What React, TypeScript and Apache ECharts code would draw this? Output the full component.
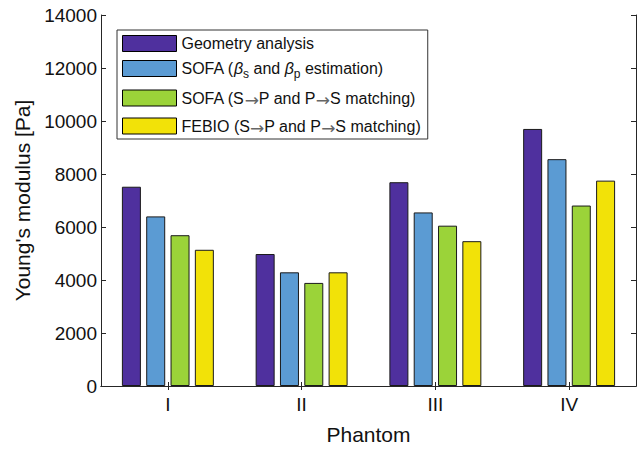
import React, { useEffect, useRef } from "react";
import * as echarts from "echarts";

const categories = ["I", "II", "III", "IV"];
const seriesNames = [
  "Geometry analysis",
  "SOFA (βs and βp estimation)",
  "SOFA (S→P and P→S matching)",
  "FEBIO (S→P and P→S matching)",
];
const geometry = [7520, 4980, 7690, 9700];
const sofaBeta = [6400, 4290, 6550, 8560];
const sofaMatch = [5690, 3890, 6050, 6810];
const febioMatch = [5140, 4290, 5465, 7750];
const seriesValues = [geometry, sofaBeta, sofaMatch, febioMatch];
const colors = ["#4F309E", "#5B9BD3", "#9BD339", "#F2E208"];
const yTicks = { min: 0, max: 14000, interval: 2000 };

const FONT = "'Liberation Sans', Arial, Helvetica, sans-serif";

function legendText(name: string): string {
  if (name === seriesNames[1]) {
    return "{n|SOFA (}{i|β}{s|s}{n| and }{i|β}{s|p}{n| estimation)}";
  }
  return name
    .split("→")
    .map((part) => "{n|" + part + "}")
    .join("{a|→}");
}

export default function App() {
  const ref = useRef<HTMLDivElement>(null);
  useEffect(() => {
    if (!ref.current) return;
    const chart = echarts.init(ref.current, undefined, { renderer: "svg", width: 641, height: 450 });
    const axisLineColor = "#262626";
    chart.setOption({
      animation: false,
      backgroundColor: "#ffffff",
      textStyle: { fontFamily: FONT },
      grid: { left: 101, width: 535, top: 15, height: 374, containLabel: false },
      legend: {
        orient: "vertical",
        left: 117,
        top: 30,
        padding: [5, 7, 3, 5],
        borderColor: "#333",
        borderWidth: 1,
        backgroundColor: "#fff",
        itemWidth: 54,
        itemHeight: 16,
        itemGap: 8,
        itemTextGap: 4,
        icon: "rect",
        itemStyle: { borderColor: "#000", borderWidth: 1 },
        data: seriesNames,
        formatter: legendText,
        textStyle: {
          fontFamily: FONT,
          fontSize: 16,
          color: "#111",
          rich: {
            n: { fontFamily: FONT, fontSize: 16, color: "#111", lineHeight: 17, verticalAlign: "middle" },
            a: { fontFamily: "'DejaVu Sans', sans-serif", fontSize: 17, color: "#666", lineHeight: 17, verticalAlign: "middle", padding: [3, 0, 0, 0] },
            i: { fontFamily: FONT, fontSize: 16, color: "#111", fontStyle: "italic", lineHeight: 17, verticalAlign: "middle" },
            s: { fontFamily: FONT, fontSize: 12, color: "#111", lineHeight: 23, verticalAlign: "bottom" },
          },
        },
      },
      xAxis: [
        {
          type: "category",
          data: categories,
          position: "bottom",
          name: "Phantom",
          nameLocation: "middle",
          nameGap: 38,
          nameTextStyle: { fontFamily: FONT, fontSize: 21, color: "#111" },
          axisLine: { show: true, lineStyle: { color: axisLineColor, width: 1 } },
          axisTick: { show: true, inside: true, alignWithLabel: true, length: 4, lineStyle: { color: axisLineColor } },
          axisLabel: { fontFamily: FONT, fontSize: 19, color: "#111", margin: 9 },
          splitLine: { show: false },
        },
        {
          type: "category",
          data: categories,
          position: "top",
          axisLine: { show: true, lineStyle: { color: axisLineColor, width: 1 } },
          axisTick: { show: true, inside: true, alignWithLabel: true, length: 4, lineStyle: { color: axisLineColor } },
          axisLabel: { show: false },
          splitLine: { show: false },
        },
      ],
      yAxis: [
        {
          type: "value",
          min: yTicks.min,
          max: yTicks.max,
          interval: yTicks.interval,
          position: "left",
          name: "Young's modulus [Pa]",
          nameLocation: "middle",
          nameGap: 64,
          nameTextStyle: { fontFamily: FONT, fontSize: 21, color: "#111" },
          axisLine: { show: true, lineStyle: { color: axisLineColor, width: 1 } },
          axisTick: { show: true, inside: true, length: 5, lineStyle: { color: axisLineColor } },
          axisLabel: { fontFamily: FONT, fontSize: 19, color: "#111", margin: 4, formatter: (v: number) => String(v) },
          splitLine: { show: false },
        },
        {
          type: "value",
          min: yTicks.min,
          max: yTicks.max,
          interval: yTicks.interval,
          position: "right",
          axisLine: { show: true, lineStyle: { color: axisLineColor, width: 1 } },
          axisTick: { show: true, inside: true, length: 5, lineStyle: { color: axisLineColor } },
          axisLabel: { show: false },
          splitLine: { show: false },
        },
      ],
      series: seriesNames.map((name, k) => ({
        name,
        type: "bar",
        xAxisIndex: 0,
        yAxisIndex: 0,
        data: seriesValues[k],
        barWidth: 19,
        barGap: "28%",
        itemStyle: { color: colors[k], borderColor: "#1a1a1a", borderWidth: 1 },
      })),
    });
    return () => chart.dispose();
  }, []);
  return (
    <div
      ref={ref}
      style={{ position: "fixed", left: 0, top: 0, width: 641, height: 450, background: "#fff" }}
    />
  );
}
